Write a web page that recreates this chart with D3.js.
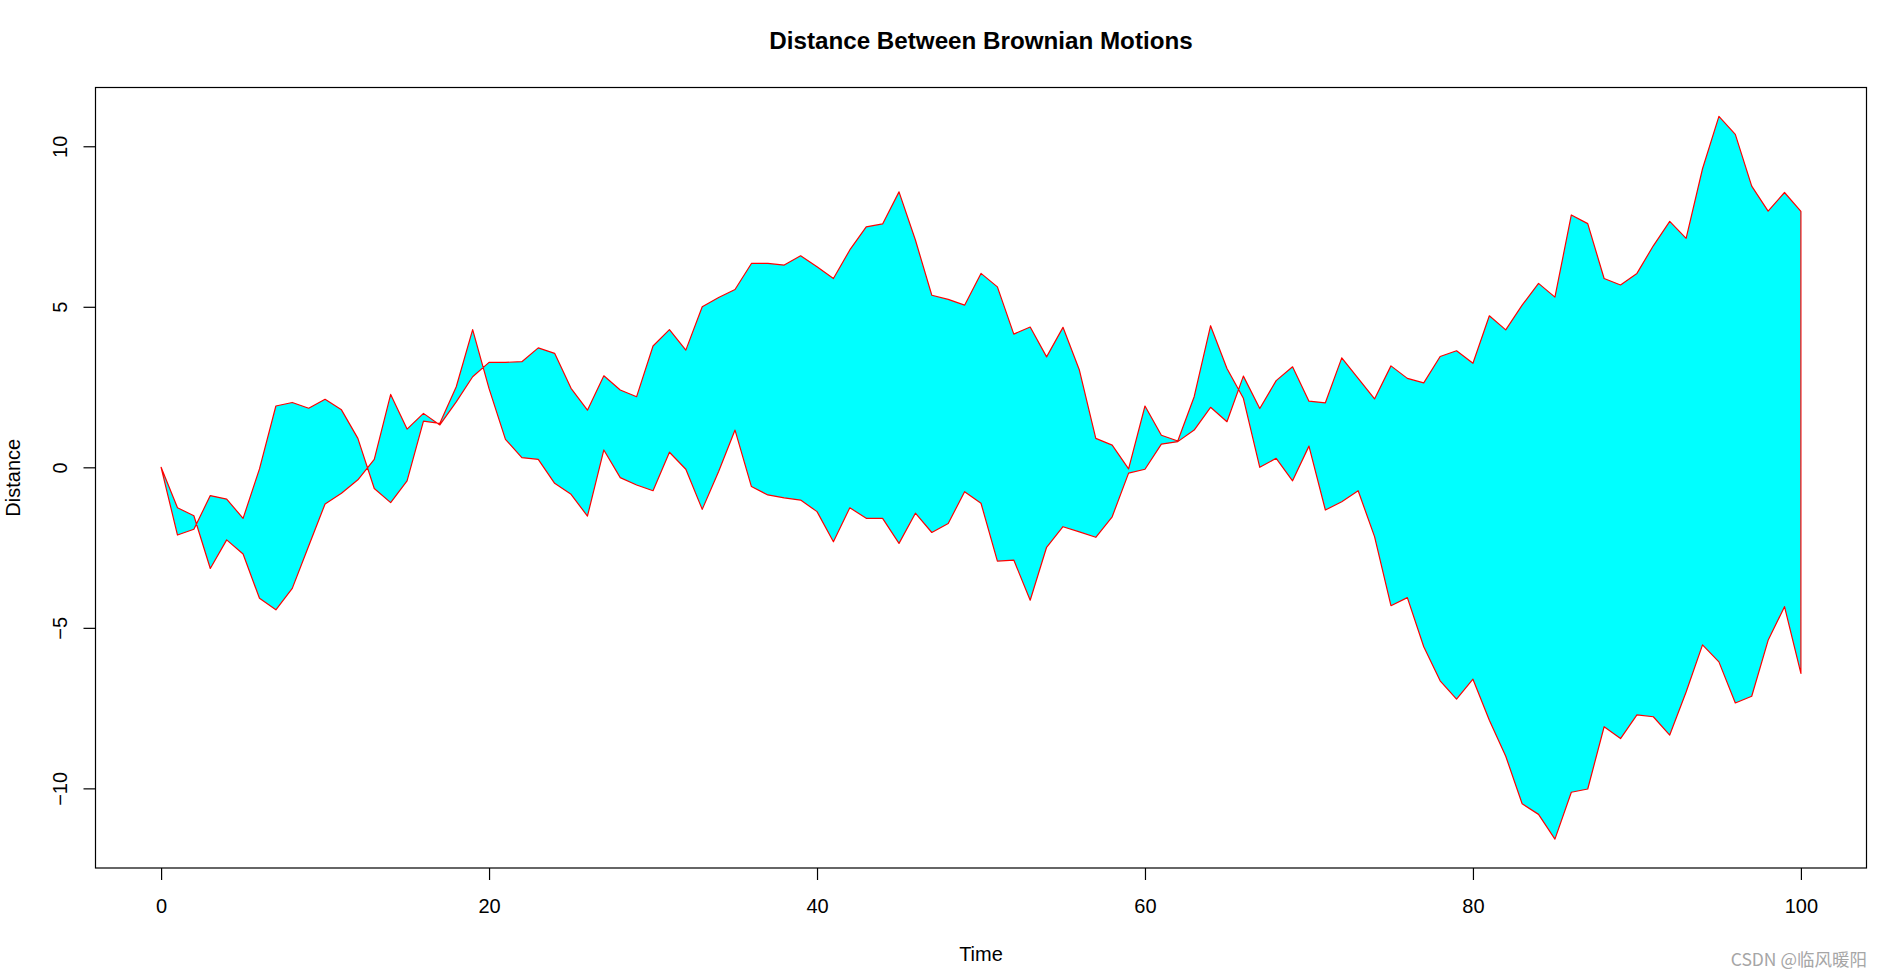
<!DOCTYPE html>
<html>
<head>
<meta charset="utf-8">
<script src="https://cdn.jsdelivr.net/npm/d3@7"></script>
<style>
  html, body { margin: 0; padding: 0; background: #ffffff; }
  svg { display: block; }
  text { font-family: "Liberation Sans", Arial, sans-serif; fill: #000; }
</style>
</head>
<body>
<svg id="chart" width="1882" height="976"></svg>
<script>
// ---- data ----
const time = d3.range(0, 101);
const motionA = [0, -1.26, -1.51, -3.15, -2.26, -2.70, -4.08, -4.44, -3.77, -2.45,
  -1.14, -0.81, -0.39, 0.25, 2.27, 1.19, 1.68, 1.32, 2.04, 2.82,
  3.27, 3.27, 3.29, 3.72, 3.55, 2.46, 1.78, 2.85, 2.41, 2.20,
  3.78, 4.29, 3.65, 5.00, 5.29, 5.54, 6.35, 6.35, 6.30, 6.59,
  6.25, 5.88, 6.77, 7.49, 7.58, 8.58, 7.08, 5.36, 5.23, 5.05,
  6.04, 5.62, 4.15, 4.37, 3.44, 4.36, 3.03, 0.90, 0.69, -0.05,
  1.91, 1.00, 0.82, 2.20, 4.41, 3.08, 2.15, 0.00, 0.28, -0.42,
  0.66, -1.33, -1.07, -0.73, -2.16, -4.31, -4.06, -5.59, -6.65, -7.22,
  -6.60, -7.88, -9.00, -10.48, -10.81, -11.58, -10.12, -10.02, -8.08, -8.45,
  -7.71, -7.77, -8.34, -7.00, -5.53, -6.06, -7.34, -7.13, -5.39, -4.34,
  -6.42];
const motionB = [0, -2.11, -1.93, -0.88, -0.99, -1.59, -0.05, 1.91, 2.02, 1.84,
  2.12, 1.79, 0.90, -0.66, -1.10, -0.42, 1.44, 1.37, 2.51, 4.29,
  2.45, 0.87, 0.30, 0.25, -0.50, -0.84, -1.52, 0.54, -0.32, -0.55,
  -0.73, 0.47, -0.06, -1.31, -0.13, 1.16, -0.60, -0.86, -0.95, -1.02,
  -1.38, -2.32, -1.26, -1.59, -1.59, -2.37, -1.43, -2.03, -1.75, -0.76,
  -1.12, -2.92, -2.89, -4.14, -2.49, -1.85, -2.01, -2.18, -1.54, -0.18,
  -0.06, 0.72, 0.80, 1.16, 1.87, 1.42, 2.84, 1.83, 2.70, 3.13,
  2.06, 2.01, 3.41, 2.77, 2.13, 3.16, 2.77, 2.63, 3.45, 3.63,
  3.24, 4.72, 4.28, 5.05, 5.73, 5.30, 7.86, 7.59, 5.88, 5.68,
  6.04, 6.90, 7.66, 7.13, 9.30, 10.93, 10.37, 8.76, 7.98, 8.56,
  7.97];
const xTicks = [0, 20, 40, 60, 80, 100];
const yTicks = [-10, -5, 0, 5, 10];
const titleText = "Distance Between Brownian Motions";
const xLabel = "Time";
const yLabel = "Distance";
const watermark = "CSDN @临风暖阳";

// ---- layout ----
const plot = { left: 95.5, right: 1866.5, top: 87.5, bottom: 868 };

const svg = d3.select("#chart");

// R-style 4% extension of ranges
function pad(ext) { const d = (ext[1] - ext[0]) * 0.04; return [ext[0] - d, ext[1] + d]; }
const x = d3.scaleLinear().domain(pad(d3.extent(time))).range([plot.left, plot.right]);
const y = d3.scaleLinear().domain(pad(d3.extent(motionA.concat(motionB)))).range([plot.bottom, plot.top]);

// polygon between the two motions
const pts = time.map((t, i) => [x(t), y(motionA[i])])
  .concat(time.map((t, i) => [x(t), y(motionB[i])]).reverse());
svg.append("path")
  .attr("d", d3.line()(pts) + "Z")
  .attr("fill", "#00ffff")
  .attr("stroke", "#ff0000")
  .attr("stroke-width", 1.2)
  .attr("stroke-linejoin", "round");

// box
svg.append("rect")
  .attr("x", plot.left).attr("y", plot.top)
  .attr("width", plot.right - plot.left).attr("height", plot.bottom - plot.top)
  .attr("fill", "none").attr("stroke", "#000").attr("stroke-width", 1.2);

// x axis
const gx = svg.append("g")
  .attr("transform", `translate(0,${plot.bottom})`)
  .call(d3.axisBottom(x).tickValues(xTicks).tickSize(12).tickFormat(d3.format("d")));
gx.select(".domain").remove();
gx.selectAll(".tick line").attr("stroke", "#000").attr("stroke-width", 1.2);
gx.selectAll(".tick text")
  .attr("y", 45).attr("dy", null)
  .style("font-size", "20px").style("font-family", "'Liberation Sans', Arial, sans-serif").attr("fill", "#000");

// y axis
const gy = svg.append("g")
  .attr("transform", `translate(${plot.left},0)`)
  .call(d3.axisLeft(y).tickValues(yTicks).tickSize(12).tickFormat(d3.format("d")));
gy.select(".domain").remove();
gy.selectAll(".tick line").attr("stroke", "#000").attr("stroke-width", 1.2);
gy.selectAll(".tick text")
  .attr("transform", "rotate(-90)")
  .attr("x", 0).attr("y", -28.5).attr("dy", null)
  .attr("text-anchor", "middle")
  .style("font-size", "20px").style("font-family", "'Liberation Sans', Arial, sans-serif").attr("fill", "#000");

// title & labels
const cx = (plot.left + plot.right) / 2;
svg.append("text").attr("x", cx).attr("y", 48.5)
  .attr("text-anchor", "middle").style("font-size", "24.2px").style("font-weight", "bold")
  .text(titleText);
svg.append("text").attr("x", cx).attr("y", 961)
  .attr("text-anchor", "middle").style("font-size", "20px").text(xLabel);
svg.append("text")
  .attr("transform", `translate(19.5,${(plot.top + plot.bottom) / 2}) rotate(-90)`)
  .attr("text-anchor", "middle").style("font-size", "20px").text(yLabel);

// watermark
svg.append("text").attr("x", 1867).attr("y", 966)
  .attr("text-anchor", "end")
  .style("font-family", "'Noto Sans CJK SC', 'Liberation Sans', sans-serif")
  .style("font-size", "17.5px").style("fill", "#a6a6a6")
  .text(watermark);
</script>
</body>
</html>
